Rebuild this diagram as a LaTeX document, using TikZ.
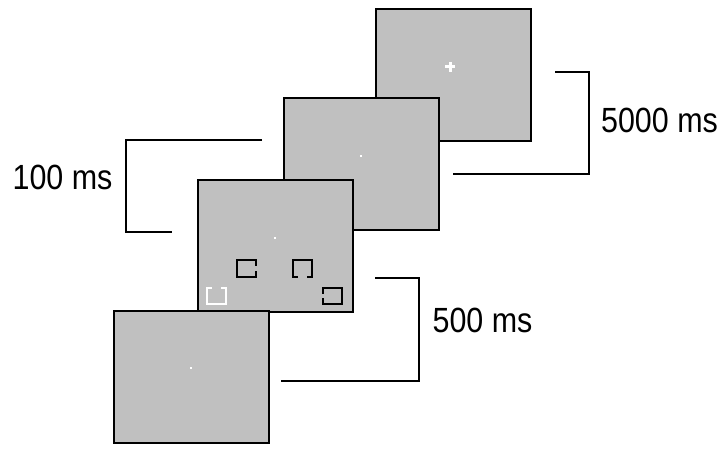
\documentclass[tikz,border=0pt]{standalone}
\usepackage{fontspec}
\setmainfont{Liberation Sans}
\definecolor{panelgray}{HTML}{C0C0C0}
\begin{document}
\begin{tikzpicture}[x=1pt,y=-1pt,
  panel/.style={draw=black, line width=2pt, fill=panelgray, minimum width=155pt, minimum height=132pt, inner sep=0pt, anchor=north west},
  timer/.style={draw=black, line width=1.5pt},
  lbl/.style={inner sep=0pt, font=\fontsize{35}{38}\selectfont},
  cue/.style={line width=2pt, line cap=rect},
  fix/.style={fill=white, draw=none, minimum size=2pt, inner sep=0pt}]
\useasboundingbox (0,0) rectangle (725,449);
% panels, back to front
\node[panel] (p4) at (375,8) {};
\node[panel] (p3) at (283,97) {};
\node[panel] (p2) at (197,179) {};
\node[panel] (p1) at (113,310) {};
% fixation points
\draw[white, line width=3pt] (445,67) -- (455,67) (450,62) -- (450,72);
\node[fix] (f3) at (361,156) {};
\node[fix] (f2) at (275,238) {};
\node[fix] (f1) at (191,368) {};
% cue/target boxes in panel 2
\draw[cue, black] (256,265) -- (256,260) -- (237,260) -- (237,277) -- (256,277) -- (256,272);
\draw[cue, black] (297,277) -- (293,277) -- (293,260) -- (312,260) -- (312,277) -- (308,277);
\draw[cue, black] (323,293) -- (323,288) -- (342,288) -- (342,304) -- (323,304) -- (323,299);
\draw[cue, white] (211,288) -- (207,288) -- (207,304) -- (226,304) -- (226,288) -- (222,288);
% timing brackets
\coordinate (a1) at (262,140); \coordinate (a2) at (126,140);
\coordinate (a3) at (126,232); \coordinate (a4) at (172,232);
\draw[timer] (a1) -- (a2) -- (a3) -- (a4);
\node[lbl] (t1) at (62.5,177.5) {\scalebox{0.87}[1]{100 ms}};
\coordinate (b1) at (375,278); \coordinate (b2) at (419,278);
\coordinate (b3) at (419,381); \coordinate (b4) at (281,381);
\draw[timer] (b1) -- (b2) -- (b3) -- (b4);
\node[lbl] (t2) at (482.5,320.5) {\scalebox{0.87}[1]{500 ms}};
\coordinate (c1) at (555,72); \coordinate (c2) at (589,72);
\coordinate (c3) at (589,174); \coordinate (c4) at (453,174);
\draw[timer] (c1) -- (c2) -- (c3) -- (c4);
\node[lbl] (t3) at (659.5,120.5) {\scalebox{0.87}[1]{5000 ms}};
\end{tikzpicture}
\end{document}
